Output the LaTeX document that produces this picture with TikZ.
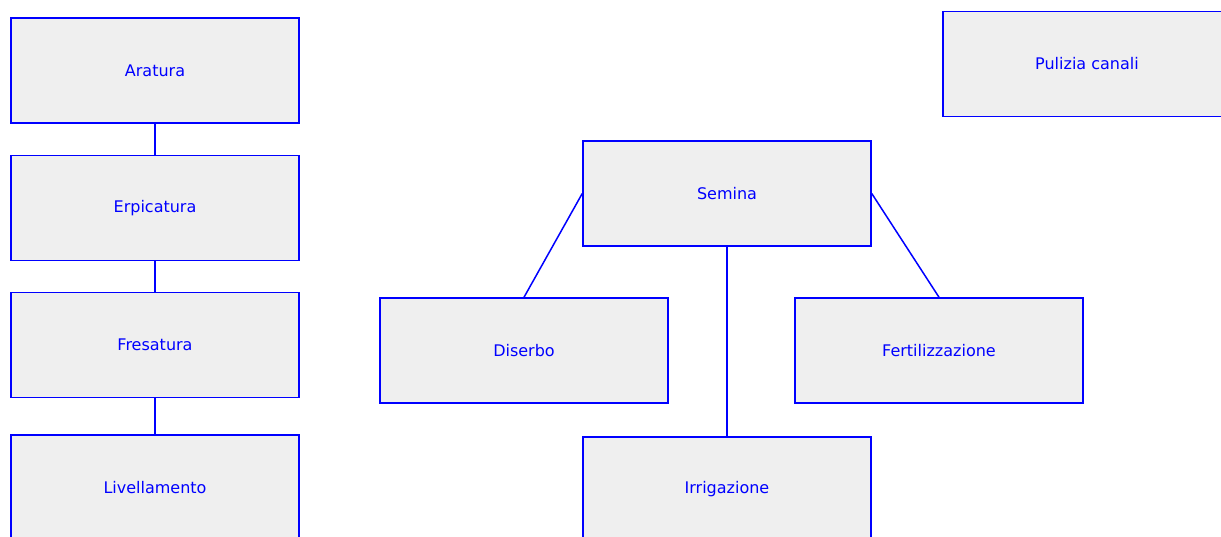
\documentclass[tikz,border=0pt]{standalone}
\usepackage{fontspec}
\setmainfont{DejaVu Sans}
\definecolor{boxfill}{HTML}{EFEFEF}
\definecolor{boxline}{RGB}{0,0,255}
\tikzset{
  task/.style={draw=boxline,fill=boxfill,line width=1.5pt,text=boxline,
    minimum width=288pt,minimum height=105pt,inner sep=0pt,
    font=\fontsize{16}{19}\selectfont},
  link/.style={draw=boxline,line width=1.5pt}
}
\begin{document}
\begin{tikzpicture}[x=1pt,y=-1pt]
\useasboundingbox (0,0) rectangle (1221,536);
\clip (0,0) rectangle (1221,536);
% preparazione del terreno
\node[task] (aratura) at (155,70.5) {Aratura};
\node[task] (erpicatura) at (155,208) {Erpicatura};
\node[task] (fresatura) at (155,345) {Fresatura};
\node[task] (livellamento) at (155,487.5) {Livellamento};
\foreach \a/\b in {aratura/erpicatura,erpicatura/fresatura,fresatura/livellamento}
  \draw[link] (\a.south) -- (\b.north);
% coltivazione
\node[task] (semina) at (727,193.5) {Semina};
\node[task] (diserbo) at (524,350.5) {Diserbo};
\node[task] (fertilizzazione) at (939,350.5) {Fertilizzazione};
\node[task] (irrigazione) at (727,489.5) {Irrigazione};
\draw[link] (semina.west) -- (diserbo.north);
\draw[link] (semina.east) -- (fertilizzazione.north);
\draw[link] (semina.south) -- (irrigazione.north);
\node[task] (pulizia) at (1087,64) {Pulizia canali};
\end{tikzpicture}
\end{document}
